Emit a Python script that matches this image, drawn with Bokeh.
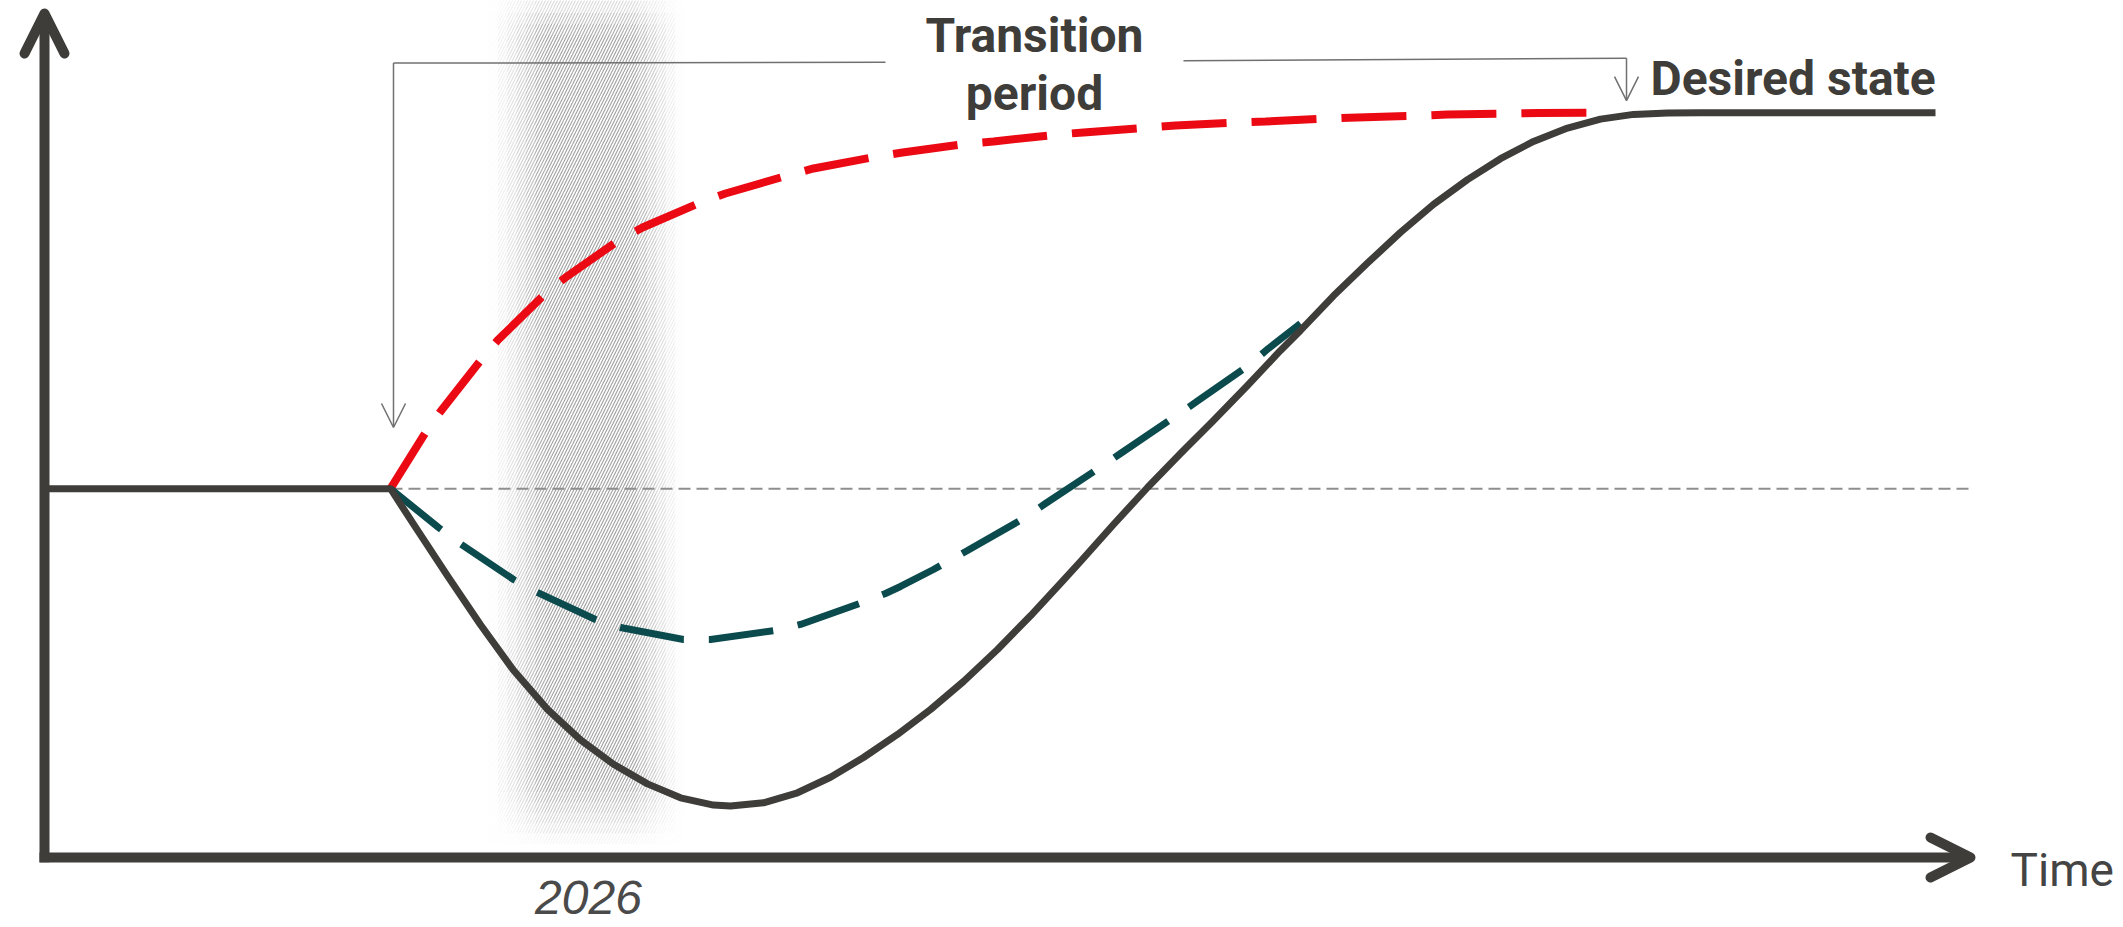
import numpy as np
from bokeh.plotting import figure
from bokeh.models import Range1d, Arrow, OpenHead, Label, ColumnDataSource
from bokeh.embed import file_html
from bokeh.resources import INLINE

# ---- data (time units along x, level units along y) ----
baseline_level = 46.1
desired_level = 93.1
transition_start = 17.3

black_t = [0.0, 17.3, 18.45, 20.15, 21.8, 23.45, 25.15, 26.8, 28.45, 30.15, 31.8, 33.45,
           34.3, 35.95, 37.65, 39.3, 40.95, 42.65, 44.3, 45.95, 47.65, 49.3, 50.95, 51.8,
           53.45, 55.15, 56.8, 58.45, 60.15, 61.8, 62.8, 64.45, 66.15, 67.8, 69.45, 71.15,
           72.8, 74.45, 76.15, 77.8, 79.45, 81.15, 82.8, 94.55]
black_v = [46.1, 46.1, 41.66, 35.2, 29.1, 23.4, 18.51, 14.71, 11.66, 9.2, 7.46, 6.55,
           6.43, 6.84, 8.09, 10.03, 12.5, 15.38, 18.5, 22.0, 26.0, 30.21, 34.66, 37.0,
           41.63, 46.25, 50.5, 54.63, 59.0, 63.38, 65.88, 70.21, 74.3, 78.14, 81.64, 84.73,
           87.35, 89.51, 91.18, 92.3, 92.89, 93.05, 93.1, 93.1]

red_t = [17.3, 19.05, 19.8, 21.8, 22.65, 25.05, 26.05, 28.7, 29.9, 32.8, 34.05, 37.15,
         38.45, 41.65, 42.9, 46.2, 47.45, 50.7, 51.95, 55.2, 56.55, 59.8, 61.05, 64.3,
         65.65, 68.9, 70.15, 73.45, 74.7, 78.3]
red_v = [46.1, 53.13, 55.75, 62.13, 64.63, 70.5, 72.5, 77.13, 78.75, 81.88, 83.0, 85.25,
         86.13, 87.63, 88.13, 89.25, 89.5, 90.38, 90.63, 91.25, 91.5, 91.88, 92.0, 92.38,
         92.5, 92.75, 92.88, 93.0, 93.06, 93.1]

teal_t = [17.3, 19.7, 20.7, 23.45, 24.55, 27.55, 28.8, 31.95, 33.3, 36.55, 37.8, 40.9,
          42.05, 42.8, 44.45, 46.15, 48.95, 50.05, 52.7, 53.8, 56.45, 57.55, 60.2, 61.2,
          62.8]
teal_v = [46.1, 41.25, 39.38, 34.75, 33.25, 29.75, 28.75, 27.25, 27.25, 28.38, 29.13,
          31.88, 33.0, 33.88, 36.0, 38.38, 42.38, 44.25, 48.63, 50.5, 55.0, 56.88, 61.5,
          63.63, 66.75]

year_label = "2026"
labels_top = ["Transition", "period"]
desired_label = "Desired state"
x_label = "Time"

# ---- styling ----
DARK = "#3e3d39"
RED = "#eb0a14"
TEAL = "#0b4a4d"
GREY = "#707070"
W, H = 2120, 925

p = figure(width=W, height=H,
           x_range=Range1d(-2.2, (W - 44) / 20), y_range=Range1d((857 - H) / 8, 857 / 8),
           output_backend="svg", toolbar_location=None, min_border=0,
           x_axis_type=None, y_axis_type=None)
p.grid.visible = False
p.outline_line_color = None
p.background_fill_color = "white"

# ---- shaded "2026" band (hatched, fading at its edges) ----
band_l, band_l_full, band_r_full, band_r = 22.2, 25.0, 29.4, 32.0
xe = np.linspace(band_l, band_r, 22)
xc = (xe[:-1] + xe[1:]) / 2
wx = np.clip(np.minimum((xc - band_l) / (band_l_full - band_l),
                        (band_r - xc) / (band_r - band_r_full)), 0, 1) ** 1.3
y_edges = [107.2, 105.6, 104.2, 102.8, 9.5, 8.2, 6.9, 5.6, 4.3, 3.0, 1.7]
yt = np.array(y_edges[:-1])
yb = np.array(y_edges[1:])
yc = (yt + yb) / 2
wy = np.where(yc > 102.8, np.clip(1 - (yc - 102.8) / 6.0, 0, 1),
              np.where(yc < 9.5, np.clip((yc - 1.5) / 8.0, 0, 1), 1.0))
L, R, T, B, A = [], [], [], [], []
for i in range(len(xc)):
    for j in range(len(yc)):
        L.append(xe[i]); R.append(xe[i + 1]); T.append(yt[j]); B.append(yb[j])
        A.append(0.55 * wx[i] * wy[j])
band_src = ColumnDataSource(dict(left=L, right=R, top=T, bottom=B, alpha=A))
p.quad(left="left", right="right", top="top", bottom="bottom", source=band_src,
       fill_alpha=0, line_alpha=0, hatch_pattern="/", hatch_scale=6,
       hatch_weight=1.2, hatch_color="#5a5a5a", hatch_alpha="alpha")

# ---- thin dashed reference level ----
p.line([transition_start, 96.5], [baseline_level, baseline_level],
       line_color="#8e8e8e", line_width=2, line_dash="12 6")

# ---- bracket "Transition period" ----
p.line([17.45, 42.05], [99.3, 99.4], line_color=GREY, line_width=1.5)
p.line([56.95, 79.1], [99.6, 99.9], line_color=GREY, line_width=1.5)
p.add_layout(Arrow(x_start=17.45, y_start=99.3, x_end=17.45, y_end=53.75,
                   line_color=GREY, line_width=1.5,
                   end=OpenHead(size=24, line_color=GREY, line_width=1.5)))
p.add_layout(Arrow(x_start=79.1, y_start=99.9, x_end=79.1, y_end=94.6,
                   line_color=GREY, line_width=1.5,
                   end=OpenHead(size=24, line_color=GREY, line_width=1.5)))

# ---- curves ----
p.line(red_t, red_v, line_color=RED, line_width=8, line_dash="65 25")
p.line(teal_t, teal_v, line_color=TEAL, line_width=7, line_dash="65 25")
p.line(black_t, black_v, line_color=DARK, line_width=7, line_join="round")

# ---- axes as arrows ----
p.add_layout(Arrow(x_start=0, y_start=-0.6, x_end=0, y_end=105.5,
                   line_color=DARK, line_width=10,
                   end=OpenHead(size=40, line_color=DARK, line_width=10,
                                line_cap="round", line_join="round")))
p.add_layout(Arrow(x_start=-0.25, y_start=0, x_end=96.3, y_end=0,
                   line_color=DARK, line_width=10,
                   end=OpenHead(size=40, line_color=DARK, line_width=10,
                                line_cap="round", line_join="round")))

# ---- texts ----
SANS = "Roboto"
p.add_layout(Label(x=49.5, y=102.7, text=labels_top[0], text_align="center",
                   text_baseline="alphabetic", text_font=SANS, text_font_style="bold",
                   text_font_size="48px", text_color=DARK))
p.add_layout(Label(x=49.5, y=95.5, text=labels_top[1], text_align="center",
                   text_baseline="alphabetic", text_font=SANS, text_font_style="bold",
                   text_font_size="48px", text_color=DARK))
p.add_layout(Label(x=80.3, y=97.4, text=desired_label, text_align="left",
                   text_baseline="alphabetic", text_font=SANS, text_font_style="bold",
                   text_font_size="48px", text_color=DARK))
p.add_layout(Label(x=98.3, y=-1.6, text=x_label, text_align="left",
                   text_baseline="alphabetic", text_font=SANS,
                   text_font_size="46px", text_color="#444444"))
p.add_layout(Label(x=27.2, y=-5.0, text=year_label, text_align="center",
                   text_baseline="alphabetic", text_font="Liberation Sans",
                   text_font_style="italic", text_font_size="48px", text_color="#4a4a4a"))

open("out.html", "w").write(file_html(p, INLINE))
